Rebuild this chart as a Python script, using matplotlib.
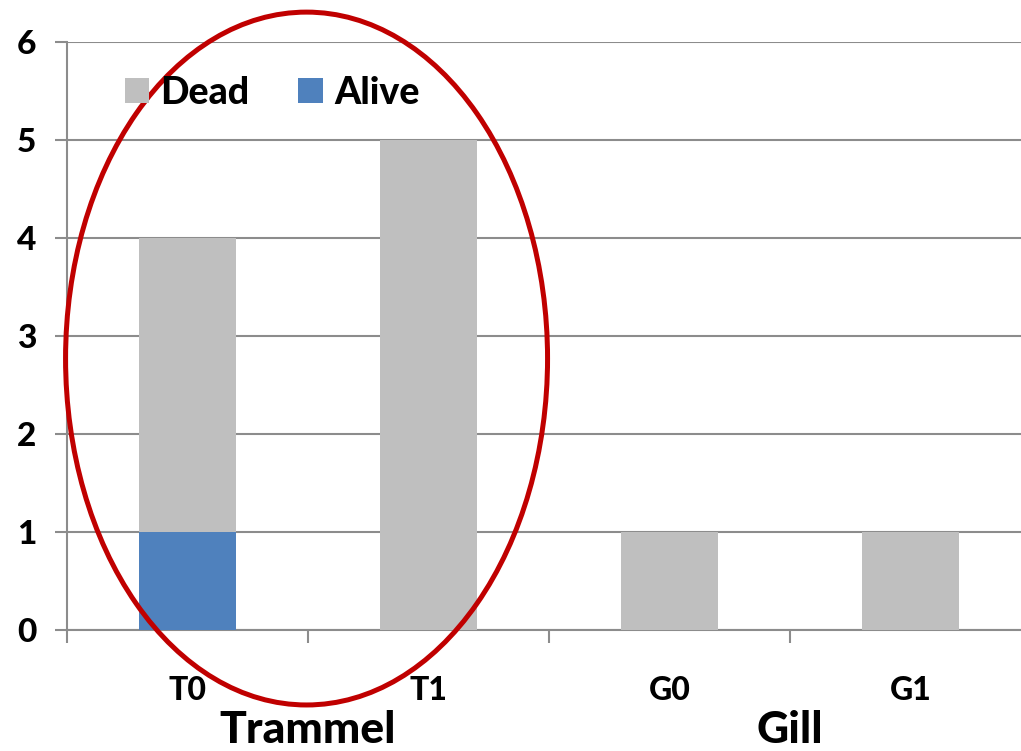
import matplotlib.pyplot as plt
from matplotlib.patches import Ellipse

plt.rcParams['font.family'] = ['Lato', 'DejaVu Sans']

# data
categories = ['T0', 'T1', 'G0', 'G1']
alive = [1, 0, 0, 0]
dead = [3, 5, 1, 1]
groups = ['Trammel', 'Gill']

fig = plt.figure(figsize=(10.21, 7.51), dpi=100)
ax = fig.add_axes([67 / 1021, 121 / 751, 964 / 1021, 588 / 751])

x = range(len(categories))
ax.bar(x, alive, width=0.4, color='#4F81BD', label='Alive', zorder=3)
ax.bar(x, dead, width=0.4, bottom=alive, color='#BFBFBF', label='Dead', zorder=3)

ax.set_xlim(-0.5, 3.5)
ax.set_ylim(0, 6)
ax.set_yticks(range(7))
ax.yaxis.grid(True, color='#8C8C8C', linewidth=1.5, zorder=0)
ax.set_xticks([-0.5, 0.5, 1.5, 2.5])
ax.set_xticklabels([])
for s in ['top', 'right']:
    ax.spines[s].set_visible(False)
for s in ['left', 'bottom']:
    ax.spines[s].set_color('#8C8C8C')
    ax.spines[s].set_linewidth(1.5)
ax.tick_params(axis='both', direction='out', length=9, width=1.5, color='#8C8C8C')
ax.tick_params(axis='y', labelsize=24, pad=13)
for lbl in ax.get_yticklabels():
    lbl.set_fontweight('black')

# category labels and group labels
tr = ax.get_xaxis_transform()
for i, c in enumerate(categories):
    ax.text(i, -0.119, c, transform=tr, ha='center', va='baseline',
            fontsize=23, fontweight='black')
for i, g in enumerate(groups):
    ax.text(0.5 + 2 * i, -0.192, g, transform=tr, ha='center', va='baseline',
            fontsize=32, fontweight='black')

# legend: Dead first, Alive second
handles, labels = ax.get_legend_handles_labels()
ax.legend(handles[::-1], labels[::-1], loc='upper left', ncol=2, frameon=False,
          prop={'size': 27, 'weight': 'black'}, handlelength=0.65, handleheight=0.65,
          handletextpad=0.3, columnspacing=1.3, bbox_to_anchor=(0.025, 1.0))

# red ellipse highlighting Trammel group
ell = Ellipse((0.494, 2.77), 2.0, 7.07, fill=False, edgecolor='#C00000',
              linewidth=3.6, clip_on=False, zorder=5)
ax.add_patch(ell)

fig.savefig('out.png', dpi=100)
